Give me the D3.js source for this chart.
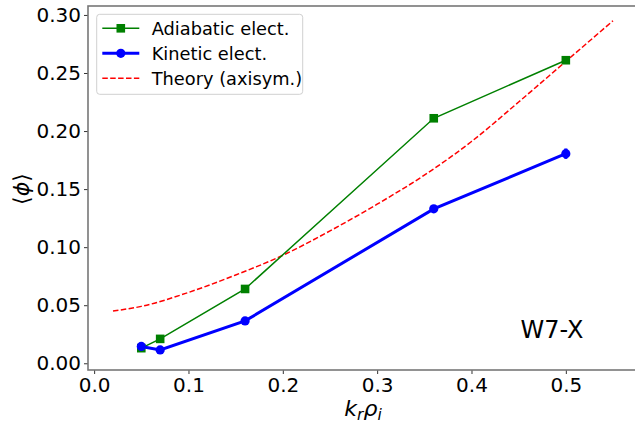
<!DOCTYPE html>
<html>
<head>
<meta charset="utf-8">
<script src="https://cdn.jsdelivr.net/npm/d3@7"></script>
<style>
  body { margin: 0; background: #fff; }
  svg { font-family: "DejaVu Sans", sans-serif; }
</style>
</head>
<body>
<div id="chart"></div>
<script>
// Data
const kValues = [0.05, 0.07, 0.16, 0.36, 0.5];
const adiabatic = [0.013, 0.021, 0.064, 0.211, 0.261];
const kinetic = [0.0145, 0.0115, 0.0365, 0.133, 0.1805];
const kineticErr = [0.001, 0.001, 0.0015, 0.002, 0.0045];

const theoryK = [0.02, 0.05, 0.1, 0.15, 0.2, 0.25, 0.3, 0.35, 0.4, 0.45, 0.5, 0.55];
const theoryPhi = [0.045, 0.049, 0.061, 0.076, 0.093, 0.114, 0.137, 0.162, 0.191, 0.225, 0.260, 0.295];

const xTicks = [0.0, 0.1, 0.2, 0.3, 0.4, 0.5];
const yTicks = [0.00, 0.05, 0.10, 0.15, 0.20, 0.25, 0.30];

const legendItems = [
    { label: 'Adiabatic elect.', color: 'green', width: 1.5, marker: 'square', dash: null },
    { label: 'Kinetic elect.', color: 'blue', width: 3, marker: 'circle', dash: null },
    { label: 'Theory (axisym.)', color: 'red', width: 1.5, marker: null, dash: '5.5,2.4' }
];

const W = 635, H = 426;
const margin = { top: 6, right: -3, bottom: 56, left: 88 };
const width = W - margin.left - margin.right;
const height = H - margin.top - margin.bottom;

const svg = d3.select('#chart')
    .append('svg')
    .attr('width', W)
    .attr('height', H);

const g = svg.append('g')
    .attr('transform', `translate(${margin.left},${margin.top})`);

// Scales
const x = d3.scaleLinear().domain([-0.0065, 0.5765]).range([0, width]);
const y = d3.scaleLinear().domain([-0.0058, 0.3077]).range([height, 0]);

// Axes
const xAxis = g.append('g')
    .attr('transform', `translate(0,${height})`)
    .call(d3.axisBottom(x).tickValues(xTicks).tickFormat(d3.format('.1f')).tickSizeOuter(0).tickSize(4).tickPadding(4));

const yAxis = g.append('g')
    .call(d3.axisLeft(y).tickValues(yTicks).tickFormat(d3.format('.2f')).tickSizeOuter(0).tickSize(4).tickPadding(3));

[xAxis, yAxis].forEach(a => {
    a.select('.domain').remove();
    a.selectAll('.tick line').attr('stroke', '#333').attr('stroke-width', 1);
    a.selectAll('.tick text')
        .attr('fill', '#000')
        .style('font-size', '20px')
        .style('font-family', '"DejaVu Sans", sans-serif');
});

// Spines
g.append('rect')
    .attr('x', 0).attr('y', 0)
    .attr('width', width).attr('height', height)
    .attr('fill', 'none')
    .attr('stroke', '#777')
    .attr('stroke-width', 1.6);

// Theory curve
const theoryData = theoryK.map((k, i) => ({ k, v: theoryPhi[i] }));
g.append('path')
    .datum(theoryData)
    .attr('fill', 'none')
    .attr('stroke', 'red')
    .attr('stroke-width', 1.5)
    .attr('stroke-dasharray', '5.5,2.4')
    .attr('d', d3.line().x(d => x(d.k)).y(d => y(d.v)).curve(d3.curveMonotoneX));

// Adiabatic electrons
const adiData = kValues.map((k, i) => ({ k, v: adiabatic[i] }));
const line = d3.line().x(d => x(d.k)).y(d => y(d.v));

g.append('path')
    .datum(adiData)
    .attr('fill', 'none')
    .attr('stroke', 'green')
    .attr('stroke-width', 1.5)
    .attr('d', line);

g.selectAll('.sq')
    .data(adiData)
    .join('rect')
    .attr('class', 'sq')
    .attr('x', d => x(d.k) - 4.3)
    .attr('y', d => y(d.v) - 4.3)
    .attr('width', 8.6)
    .attr('height', 8.6)
    .attr('fill', 'green');

// Kinetic electrons
const kinData = kValues.map((k, i) => ({ k, v: kinetic[i], e: kineticErr[i] }));

g.selectAll('.err')
    .data(kinData)
    .join('line')
    .attr('class', 'err')
    .attr('x1', d => x(d.k)).attr('x2', d => x(d.k))
    .attr('y1', d => y(d.v - d.e)).attr('y2', d => y(d.v + d.e))
    .attr('stroke', 'blue')
    .attr('stroke-width', 3);

g.append('path')
    .datum(kinData)
    .attr('fill', 'none')
    .attr('stroke', 'blue')
    .attr('stroke-width', 3)
    .attr('d', line);

g.selectAll('.dot')
    .data(kinData)
    .join('circle')
    .attr('class', 'dot')
    .attr('cx', d => x(d.k))
    .attr('cy', d => y(d.v))
    .attr('r', 4.6)
    .attr('fill', 'blue');

// Legend
const legend = g.append('g').attr('transform', 'translate(8.7,8.3)');
legend.append('rect')
    .attr('width', 206).attr('height', 80)
    .attr('rx', 3)
    .attr('fill', 'rgba(255,255,255,0.8)')
    .attr('stroke', '#d0d0d0')
    .attr('stroke-width', 1);

legendItems.forEach((item, i) => {
    const row = legend.append('g').attr('transform', `translate(0,${14 + i * 25})`);
    row.append('line')
        .attr('x1', 5.6).attr('x2', 42.6)
        .attr('stroke', item.color)
        .attr('stroke-width', item.width)
        .attr('stroke-dasharray', item.dash);
    if (item.marker === 'square') {
        row.append('rect').attr('x', 19.8).attr('y', -4.3).attr('width', 8.6).attr('height', 8.6).attr('fill', item.color);
    } else if (item.marker === 'circle') {
        row.append('circle').attr('cx', 24.1).attr('r', 4.6).attr('fill', item.color);
    }
    row.append('text')
        .attr('x', 55)
        .attr('dy', '0.36em')
        .style('font-size', '17.8px')
        .attr('fill', '#000')
        .text(item.label);
});

// Annotation
g.append('text')
    .attr('x', x(0.452))
    .attr('y', y(0.0215))
    .style('font-size', '24px')
    .attr('fill', '#000')
    .text('W7-X');

// Axis labels
const xl = svg.append('text')
    .attr('x', margin.left + width / 2)
    .attr('y', 416)
    .attr('text-anchor', 'middle')
    .style('font-size', '22px')
    .attr('fill', '#000');
xl.append('tspan').style('font-style', 'italic').text('k');
xl.append('tspan').style('font-style', 'italic').style('font-size', '15.5px').attr('dy', 4).text('r');
xl.append('tspan').style('font-style', 'italic').attr('dy', -4).text('ρ');
xl.append('tspan').style('font-style', 'italic').style('font-size', '15.5px').attr('dy', 4).text('i');

svg.append('text')
    .attr('transform', `translate(29,${margin.top + y(0.15)}) rotate(-90)`)
    .attr('text-anchor', 'middle')
    .style('font-size', '22px')
    .attr('fill', '#000')
    .html('⟨<tspan font-style="italic">ϕ</tspan>⟩');
</script>
</body>
</html>
